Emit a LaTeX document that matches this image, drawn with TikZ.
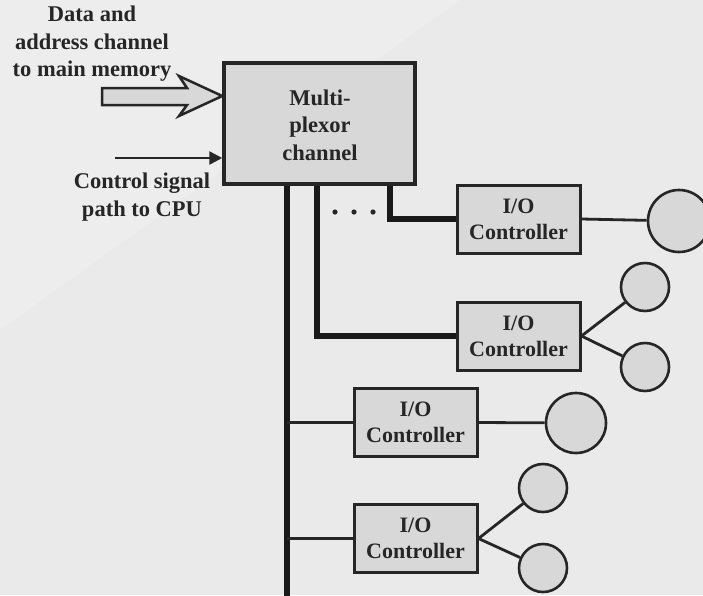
\documentclass[tikz,border=0pt]{standalone}
\usepackage{fontspec}
\setmainfont{Liberation Serif}
\usetikzlibrary{arrows.meta}
\definecolor{bg}{HTML}{EAEAEA}
\definecolor{boxfill}{HTML}{D8D8D8}
\tikzset{
  lbl/.style={font=\bfseries\fontsize{22.5}{27.5}\selectfont, align=center, inner sep=0pt, text=black!85},
  ctrl/.style={draw=black!85, line width=3pt, fill=boxfill, minimum width=123pt, minimum height=68pt, inner sep=0pt, font=\bfseries\fontsize{22}{26}\selectfont, align=center, text=black!85},
  dev/.style={circle, draw=black!85, line width=2.6pt, fill=boxfill, inner sep=0pt},
  thick bus/.style={line width=5.5pt, draw=black!90},
  thin bus/.style={line width=2.8pt, draw=black!85},
}
\begin{document}
\begin{tikzpicture}[x=1pt,y=-1pt]
\useasboundingbox (0,0) rectangle (703,595);
\fill[bg] (0,0) rectangle (703,595);
\fill[white, opacity=0.18] (0,0) -- (460,0) -- (0,330) -- cycle;

% main multiplexor box
\node[draw=black!85, line width=3.5pt, fill=boxfill, minimum width=191pt, minimum height=121pt, inner sep=0pt] (mux) at (319.5,123.5) {};
\node[lbl] (muxt) at (320,125) {Multi-\\plexor\\channel};

% labels
\node[lbl] (dlab) at (92,44) {Data and\\address channel\\to main memory};
\node[lbl] (clab) at (142,197) {Control signal\\path to CPU};

% hollow data arrow
\filldraw[fill=boxfill, draw=black!85, line width=2.5pt, line join=miter]
  (102,88) -- (187,88) -- (179,76) -- (mux.west |- 0,96) -- (179,116) -- (187,105) -- (102,105) -- cycle;

% control signal arrow
\coordinate (cs) at (115,158);
\draw[line width=2.5pt, draw=black!85, -{Triangle[length=13pt,width=13pt]}] (cs) -- (mux.west |- cs);

% controllers
\node[ctrl] (io1) at (518.5,219) {I/O\\Controller};
\node[ctrl] (io2) at (518.5,336) {I/O\\Controller};
\node[ctrl] (io3) at (415.5,422.5) {I/O\\Controller};
\node[ctrl] (io4) at (415.5,538.5) {I/O\\Controller};

% devices
\node[dev, minimum size=62pt] (d1) at (679,221) {};
\node[dev, minimum size=48pt] (d2a) at (645,287) {};
\node[dev, minimum size=48pt] (d2b) at (645,367) {};
\node[dev, minimum size=60pt] (d3) at (576,423) {};
\node[dev, minimum size=48pt] (d4a) at (543,488) {};
\node[dev, minimum size=48pt] (d4b) at (543,568) {};

% buses from the multiplexor
\coordinate (bot) at (287,597);
\draw[thick bus] (mux.south -| 287,0) -- (bot);
\draw[thick bus] (mux.south -| 317,0) -- (317,336) -- (io2.west);
\draw[thick bus] (mux.south -| 390,0) -- (390,219) -- (io1.west);
\draw[thin bus] (287,422.5) -- (io3.west);
\draw[thin bus] (287,538.5) -- (io4.west);

% dots
\foreach \x in {335,354,373} \fill[black!85] (\x,212) circle (2.6pt);

% controller to device links
\draw[thin bus] (io1.east) -- (d1);
\draw[thin bus] (io2.east) -- (d2a);
\draw[thin bus] (io2.east) -- (d2b);
\draw[thin bus] (io3.east) -- (d3);
\draw[thin bus] (io4.east) -- (d4a);
\draw[thin bus] (io4.east) -- (d4b);
\end{tikzpicture}
\end{document}
